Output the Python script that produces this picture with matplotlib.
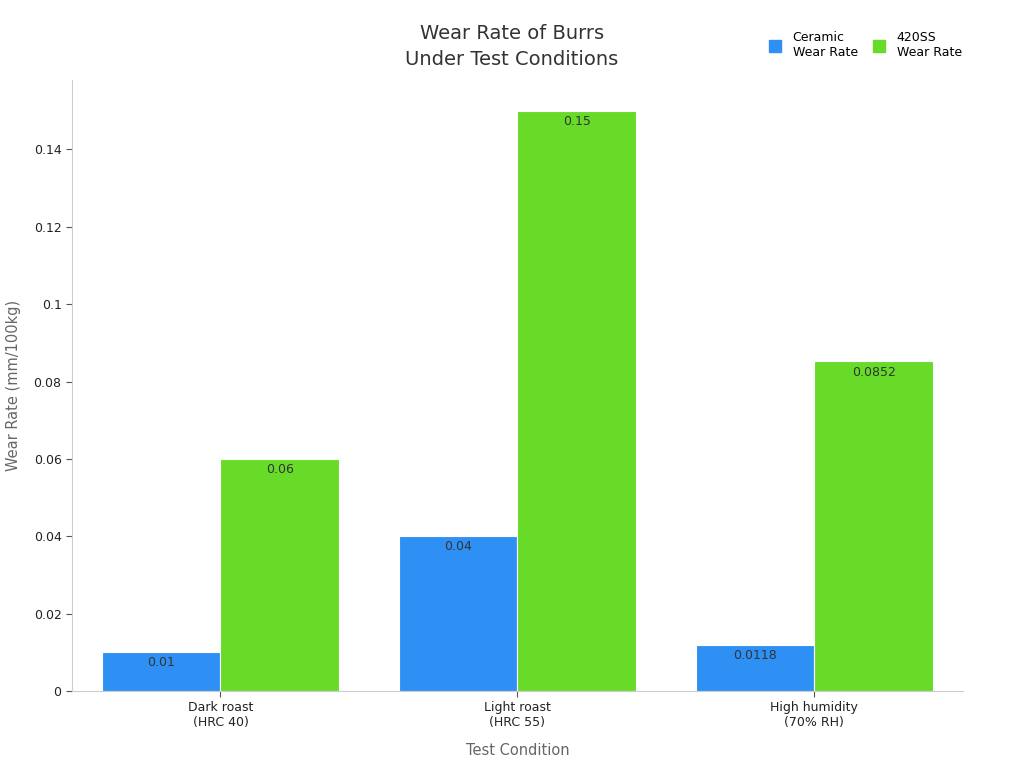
import numpy as np
import matplotlib.pyplot as plt
from matplotlib.lines import Line2D

conditions = ['Dark roast\n(HRC 40)', 'Light roast\n(HRC 55)', 'High humidity\n(70% RH)']
ceramic = [0.01, 0.04, 0.0118]
ss420 = [0.06, 0.15, 0.0852]
ceramic_labels = ['0.01', '0.04', '0.0118']
ss420_labels = ['0.06', '0.15', '0.0852']
yticks = [0, 0.02, 0.04, 0.06, 0.08, 0.1, 0.12, 0.14]
ytick_labels = ['0', '0.02', '0.04', '0.06', '0.08', '0.1', '0.12', '0.14']


def main():
    fig = plt.figure(figsize=(10.24, 7.68), dpi=100)
    ax = fig.add_axes([0.0703, 0.1003, 0.870, 0.7957])

    x = np.arange(len(conditions))
    w = 0.4
    b1 = ax.bar(x - w/2, ceramic, w, color='#2e90f5', edgecolor='white', linewidth=0.8)
    b2 = ax.bar(x + w/2, ss420, w, color='#67db28', edgecolor='white', linewidth=0.8)

    for bars, labels in [(b1, ceramic_labels), (b2, ss420_labels)]:
        for rect, lab in zip(bars, labels):
            ax.annotate(lab, (rect.get_x() + rect.get_width()/2, rect.get_height()),
                        xytext=(0, -3), textcoords='offset points',
                        ha='center', va='top', fontsize=9, color='#333333')

    ax.set_xlim(-0.5, 2.5)
    ax.set_ylim(0, 0.158)
    ax.set_xticks(x)
    ax.set_xticklabels(conditions, fontsize=9, color='#222222')
    ax.set_yticks(yticks)
    ax.set_yticklabels(ytick_labels, fontsize=9, color='#222222')
    ax.tick_params(colors='#555555', length=4, width=0.8, labelcolor='#222222')

    for s in ['top', 'right']:
        ax.spines[s].set_visible(False)
    for s in ['left', 'bottom']:
        ax.spines[s].set_color('#cccccc')

    ax.set_xlabel('Test Condition', fontsize=10.5, color='#666666', labelpad=10)
    ax.set_ylabel('Wear Rate (mm/100kg)', fontsize=10.5, color='#666666')
    ax.yaxis.set_label_coords(-0.057, 0.5)

    fig.text(0.5, 0.939, 'Wear Rate of Burrs\nUnder Test Conditions', ha='center', va='center',
             fontsize=14, color='#333333', linespacing=1.45)

    handles = [Line2D([], [], marker='s', linestyle='none', markersize=9, color='#2e90f5'),
               Line2D([], [], marker='s', linestyle='none', markersize=9, color='#67db28')]
    fig.legend(handles, ['Ceramic\nWear Rate', '420SS\nWear Rate'], loc='center',
               bbox_to_anchor=(0.845, 0.941), ncol=2, frameon=False, fontsize=9,
               handlelength=1.0, columnspacing=1.2, handletextpad=0.9)

    fig.savefig('out.png', dpi=100)


if __name__ == '__main__':
    main()
